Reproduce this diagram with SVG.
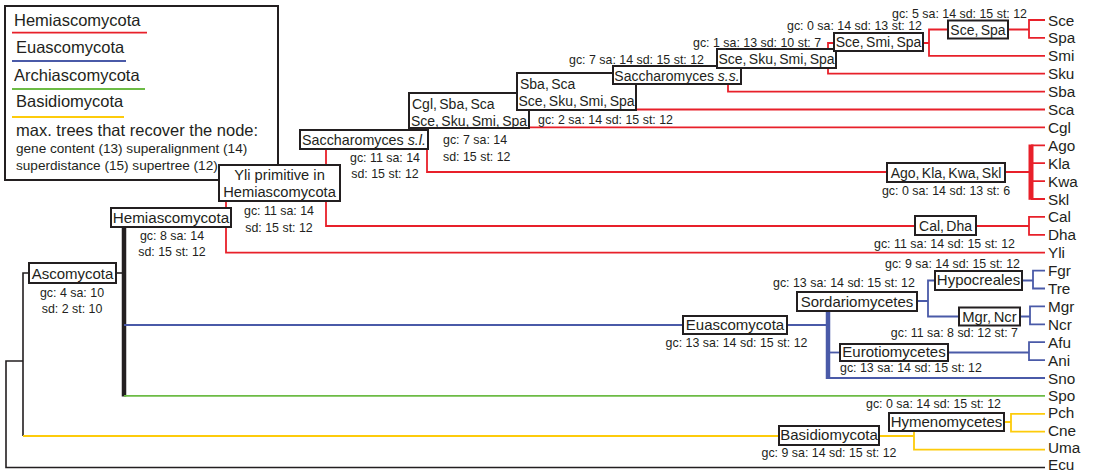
<svg xmlns="http://www.w3.org/2000/svg" width="1094" height="473" viewBox="0 0 1094 473">
<style>
text{font-family:"Liberation Sans",Arial,sans-serif;fill:#231f20}
.lg{font-size:16.5px}
.lgs{font-size:13.6px}
.nl{font-size:15px;text-anchor:middle}
.cl{font-size:14px;word-spacing:-1.5px}
.sl{font-size:12.4px}
.mid{text-anchor:middle}
.end{text-anchor:end}
.st{text-anchor:start}
.tip{font-size:15.3px}
.box{fill:#fff;stroke:#231f20;stroke-width:2}
.k{fill:none;stroke:#231f20;stroke-width:1.6}
.r{fill:none;stroke:#e8202a;stroke-width:1.8}
.b{fill:none;stroke:#4a5aa8;stroke-width:1.8}
.g{fill:none;stroke:#6cbb45;stroke-width:1.8}
.y{fill:none;stroke:#fdcb0b;stroke-width:1.8}
</style>
<rect width="1094" height="473" fill="#fff"/>
<g id="legend">
<rect x="5" y="6" width="273" height="174" fill="#fff" stroke="#231f20" stroke-width="2"/>
<text class="lg" x="14" y="26">Hemiascomycota</text>
<path class="r" d="M12,32.7 H147"/>
<text class="lg" x="16" y="53">Euascomycota</text>
<path class="b" d="M12,61 H126"/>
<text class="lg" x="14" y="80.5">Archiascomycota</text>
<path class="g" d="M12,89 H145"/>
<text class="lg" x="16" y="107">Basidiomycota</text>
<path class="y" d="M12,117 H124"/>
<text class="lg" x="16" y="136">max. trees that recover the node:</text>
<text class="lgs" x="16" y="153">gene content (13) superalignment (14)</text>
<text class="lgs" x="16" y="170">superdistance (15) supertree (12)</text>
</g>
<g id="connectors">
<path class="k" d="M1045,467.5 H6 V361 H23"/>
<path class="k" d="M29,273 H23 V436"/>
<path class="k" d="M116,273 H124"/>
<path d="M124,227 V396.5" stroke="#231f20" stroke-width="4.5" fill="none"/>
<path class="r" d="M226,200 V252.7 H1045"/>
<path class="r" d="M326,149 V226 H915"/>
<path class="r" d="M976,226 H1029 M1045,216.9 H1029 V234.8 H1045"/>
<path class="r" d="M427,149 V172 H887"/>
<path class="r" d="M1005,172 H1031 M1031,145.3 H1045 M1031,163.2 H1045 M1031,181.1 H1045 M1031,199 H1045"/>
<path d="M1031,144.5 V199.8" stroke="#e8202a" stroke-width="5" fill="none"/>
<path class="r" d="M529,127.4 H1045"/>
<path class="r" d="M636,109.5 H1045"/>
<path class="r" d="M728,84 V91.6 H1045"/>
<path class="r" d="M834,43 H828 V73.7 H1045"/>
<path class="r" d="M923,43 H929 M948,29.5 H929 V55.8 H1045"/>
<path class="r" d="M1008,29.5 H1029 M1045,20 H1029 V37.9 H1045"/>
<path class="b" d="M124,325 H683"/>
<path class="b" d="M787,325 H828"/>
<path d="M828,311 V379" stroke="#4a5aa8" stroke-width="4.5" fill="none"/>
<path class="b" d="M828,378 H1045"/>
<path class="b" d="M828,352.5 H840"/>
<path class="b" d="M917,301 H928 M935,280.5 H928 V316.5 H959"/>
<path class="b" d="M1022,280.5 H1033 M1045,270.6 H1033 V288.5 H1045"/>
<path class="b" d="M1020,316.5 H1030 M1045,306.4 H1030 V324.3 H1045"/>
<path class="b" d="M948,352.5 H1029 M1045,342.2 H1029 V360.1 H1045"/>
<path class="g" d="M124,395.9 H1045"/>
<path class="y" d="M23,436 H779"/>
<path class="y" d="M879,436 H914 M914,431 V449.6 H1045"/>
<path class="y" d="M1004,422 H1011 M1045,413.8 H1011 V431.7 H1045"/>
</g>
<g id="n-ascomycota">
<rect class="box" x="29" y="263" width="87" height="20"/>
<text class="nl" x="72.5" y="278.5">Ascomycota</text>
<text class="sl mid" x="72" y="296.5">gc: 4 sa: 10</text>
<text class="sl mid" x="72" y="313">sd: 2 st: 10</text>
</g>
<g id="n-hemiascomycota">
<rect class="box" x="111" y="208" width="120" height="19"/>
<text class="nl" x="171" y="222.5" style="font-size:15.2px">Hemiascomycota</text>
<text class="sl mid" x="172" y="240">gc: 8 sa: 14</text>
<text class="sl mid" x="172" y="256">sd: 15 st: 12</text>
</g>
<g id="n-yli-primitive">
<rect class="box" x="219" y="165" width="121" height="36"/>
<text class="nl" x="279.5" y="180" style="font-size:14.7px">Yli primitive in</text>
<text class="nl" x="279.5" y="196.5" style="font-size:14.7px">Hemiascomycota</text>
<text class="sl mid" x="279" y="215">gc: 11 sa: 14</text>
<text class="sl mid" x="279" y="231.5">sd: 15 st: 12</text>
</g>
<g id="n-saccharomyces-sl">
<rect class="box" x="300" y="130" width="128" height="19"/>
<text class="nl" x="364" y="144.5" style="font-size:14.3px">Saccharomyces <tspan font-style="italic">s.l.</tspan></text>
<text class="sl mid" x="385" y="162">gc: 11 sa: 14</text>
<text class="sl mid" x="385" y="178">sd: 15 st: 12</text>
</g>
<g id="n-cgl-sba-sca">
<rect class="box" x="409" y="93" width="120" height="35"/>
<text class="cl st" x="412" y="109">Cgl, Sba, Sca</text>
<text class="cl mid" x="469" y="125.5">Sce, Sku, Smi, Spa</text>
<text class="sl" x="443" y="143.5">gc: 7 sa: 14</text>
<text class="sl" x="443" y="161">sd: 15 st: 12</text>
</g>
<g id="n-sba-sca">
<rect class="box" x="517" y="73" width="119" height="37"/>
<text class="cl st" x="520" y="89">Sba, Sca</text>
<text class="cl mid" x="576.5" y="106">Sce, Sku, Smi, Spa</text>
<text class="sl" x="538" y="124">gc: 2 sa: 14 sd: 15 st: 12</text>
</g>
<g id="n-saccharomyces-ss">
<text class="sl" x="569" y="64">gc: 7 sa: 14 sd: 15 st: 12</text>
<rect class="box" x="613" y="66" width="128" height="18"/>
<text class="nl" x="677" y="80.5" style="font-size:14px">Saccharomyces <tspan font-style="italic">s.s.</tspan></text>
</g>
<g id="n-sce-sku-smi-spa">
<text class="sl" x="693" y="47">gc: 1 sa: 13 sd: 10 st: 7</text>
<rect class="box" x="717" y="49" width="119" height="19"/>
<text class="cl mid" x="776.5" y="64">Sce, Sku, Smi, Spa</text>
</g>
<g id="n-sce-smi-spa">
<text class="sl end" x="922" y="30">gc: 0 sa: 14 sd: 13 st: 12</text>
<rect class="box" x="834" y="33" width="89" height="18"/>
<text class="cl mid" x="878.5" y="47">Sce, Smi, Spa</text>
</g>
<g id="n-sce-spa">
<text class="sl end" x="1027" y="18">gc: 5 sa: 14 sd: 15 st: 12</text>
<rect class="box" x="948" y="20.5" width="60" height="18"/>
<text class="cl mid" x="978" y="34.5">Sce, Spa</text>
</g>
<g id="n-ago-kla-kwa-skl">
<rect class="box" x="887" y="163" width="118" height="19"/>
<text class="cl mid" x="946" y="177.5">Ago, Kla, Kwa, Skl</text>
<text class="sl mid" x="946" y="195">gc: 0 sa: 14 sd: 13 st: 6</text>
</g>
<g id="n-cal-dha">
<rect class="box" x="915" y="216" width="61" height="19"/>
<text class="cl mid" x="945.5" y="231">Cal, Dha</text>
<text class="sl end" x="1015" y="248">gc: 11 sa: 14 sd: 15 st: 12</text>
</g>
<g id="n-euascomycota">
<rect class="box" x="683" y="316" width="104" height="18"/>
<text class="nl" x="735" y="330">Euascomycota</text>
<text class="sl mid" x="736.5" y="347">gc: 13 sa: 14 sd: 15 st: 12</text>
</g>
<g id="n-sordariomycetes">
<text class="sl" x="773" y="287">gc: 13 sa: 14 sd: 15 st: 12</text>
<rect class="box" x="797" y="292" width="120" height="19"/>
<text class="nl" x="857" y="306.5">Sordariomycetes</text>
</g>
<g id="n-hypocreales">
<text class="sl end" x="1020" y="268">gc: 9 sa: 14 sd: 15 st: 12</text>
<rect class="box" x="935" y="271" width="87" height="19"/>
<text class="nl" x="978.5" y="285">Hypocreales</text>
</g>
<g id="n-mgr-ncr">
<rect class="box" x="959" y="307.5" width="61" height="18"/>
<text class="cl mid" x="989.5" y="321.5" style="font-size:14.8px">Mgr, Ncr</text>
<text class="sl end" x="1018" y="337">gc: 11 sa: 8 sd: 12 st: 7</text>
</g>
<g id="n-eurotiomycetes">
<rect class="box" x="840" y="344" width="108" height="17"/>
<text class="nl" x="894" y="357">Eurotiomycetes</text>
<text class="sl" x="840" y="372">gc: 13 sa: 14 sd: 15 st: 12</text>
</g>
<g id="n-basidiomycota">
<rect class="box" x="779" y="426" width="100" height="19"/>
<text class="nl" x="829" y="440">Basidiomycota</text>
<text class="sl mid" x="829" y="457">gc: 9 sa: 14 sd: 15 st: 12</text>
</g>
<g id="n-hymenomycetes">
<text class="sl end" x="1001" y="408">gc: 0 sa: 14 sd: 15 st: 12</text>
<rect class="box" x="889" y="413" width="115" height="18"/>
<text class="nl" x="946.5" y="426.5">Hymenomycetes</text>
</g>
<g id="tips">
<g id="t-sce"><text class="tip" x="1048" y="25.5">Sce</text></g>
<g id="t-spa"><text class="tip" x="1048" y="43.4">Spa</text></g>
<g id="t-smi"><text class="tip" x="1048" y="61.3">Smi</text></g>
<g id="t-sku"><text class="tip" x="1048" y="79.2">Sku</text></g>
<g id="t-sba"><text class="tip" x="1048" y="97.1">Sba</text></g>
<g id="t-sca"><text class="tip" x="1048" y="115">Sca</text></g>
<g id="t-cgl"><text class="tip" x="1048" y="132.9">Cgl</text></g>
<g id="t-ago"><text class="tip" x="1048" y="150.8">Ago</text></g>
<g id="t-kla"><text class="tip" x="1048" y="168.7">Kla</text></g>
<g id="t-kwa"><text class="tip" x="1048" y="186.6">Kwa</text></g>
<g id="t-skl"><text class="tip" x="1048" y="204.5">Skl</text></g>
<g id="t-cal"><text class="tip" x="1048" y="222.4">Cal</text></g>
<g id="t-dha"><text class="tip" x="1048" y="240.3">Dha</text></g>
<g id="t-yli"><text class="tip" x="1048" y="258.2">Yli</text></g>
<g id="t-fgr"><text class="tip" x="1048" y="276.1">Fgr</text></g>
<g id="t-tre"><text class="tip" x="1048" y="294">Tre</text></g>
<g id="t-mgr"><text class="tip" x="1048" y="311.9">Mgr</text></g>
<g id="t-ncr"><text class="tip" x="1048" y="329.8">Ncr</text></g>
<g id="t-afu"><text class="tip" x="1048" y="347.7">Afu</text></g>
<g id="t-ani"><text class="tip" x="1048" y="365.6">Ani</text></g>
<g id="t-sno"><text class="tip" x="1048" y="383.5">Sno</text></g>
<g id="t-spo"><text class="tip" x="1048" y="401.2">Spo</text></g>
<g id="t-pch"><text class="tip" x="1048" y="418.4">Pch</text></g>
<g id="t-cne"><text class="tip" x="1048" y="435.5">Cne</text></g>
<g id="t-uma"><text class="tip" x="1048" y="452.6">Uma</text></g>
<g id="t-ecu"><text class="tip" x="1048" y="469.7">Ecu</text></g>
</g>
</svg>
